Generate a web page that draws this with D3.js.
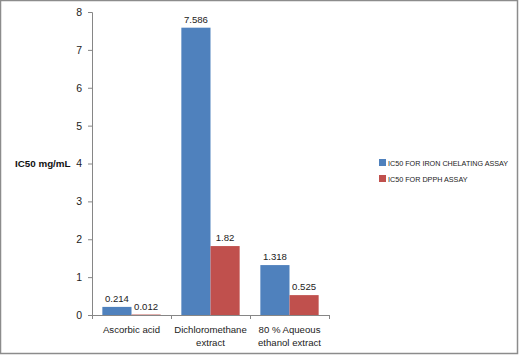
<!DOCTYPE html>
<html><head><meta charset="utf-8">
<script src="https://cdn.jsdelivr.net/npm/d3@7"></script>
<style>body{margin:0;background:#fff}svg{display:block}text{font-family:"Liberation Sans",Arial,sans-serif}</style>
</head><body><svg id="c" width="521" height="355"></svg>
<script>
const categories = [["Ascorbic acid"], ["Dichloromethane", "extract"], ["80 % Aqueous", "ethanol extract"]];
const seriesNames = ["IC50 FOR IRON CHELATING ASSAY", "IC50 FOR DPPH ASSAY"];
const ironValues = [0.214, 7.586, 1.318];
const dpphValues = [0.012, 1.82, 0.525];
const valueLabels = [["0.214", "7.586", "1.318"], ["0.012", "1.82", "0.525"]];
const yTicks = [0, 1, 2, 3, 4, 5, 6, 7, 8];
const colors = ["#4F81BD", "#C0504D"];

(function () {
const svg = d3.select("#c");
svg.append("rect").attr("x", 0.5).attr("y", 0.5).attr("width", 517).attr("height", 353)
  .attr("fill", "#fff").attr("stroke", "#8c8c8c").attr("stroke-width", 1.5);

const pL = 92, pR = 329, pT = 12, pB = 315;
const y = d3.scaleLinear().domain([0, 8]).range([pB, pT]);
const x0 = d3.scaleBand().domain(d3.range(categories.length)).range([pL, pR]).paddingInner(0).paddingOuter(0);
const x1 = d3.scaleBand().domain([0, 1]).range([0, x0.bandwidth()]).paddingOuter(0.355).paddingInner(0);

const ya = svg.append("g").attr("transform", `translate(${pL},0)`)
  .call(d3.axisLeft(y).tickValues(yTicks).tickSize(4).tickPadding(6).tickFormat(d3.format("d")));
ya.select(".domain").attr("stroke", "#868686");
ya.selectAll(".tick line").attr("stroke", "#868686");
ya.selectAll(".tick text").attr("font-size", 10.5).attr("fill", "#222").attr("font-family", '"Liberation Sans",Arial,sans-serif');

const xa = svg.append("g");
xa.append("line").attr("x1", pL).attr("x2", pR).attr("y1", pB + 0.5).attr("y2", pB + 0.5).attr("stroke", "#868686");
const bounds = d3.range(categories.length + 1).map(i => i < categories.length ? x0(i) : x0(i - 1) + x0.bandwidth());
xa.selectAll("line.t").data(bounds).enter().append("line").attr("class", "t")
  .attr("x1", d => d + 0.5).attr("x2", d => d + 0.5).attr("y1", pB).attr("y2", pB + 4).attr("stroke", "#868686");

categories.forEach((lines, i) => {
  const cx = x0(i) + x0.bandwidth() / 2;
  const t = svg.append("text").attr("text-anchor", "middle").attr("font-size", 9.6).attr("fill", "#222")
    .attr("x", cx).attr("y", 333);
  lines.forEach((l, j) => t.append("tspan").attr("x", cx).attr("dy", j ? 13 : 0).text(l));
});

const series = [ironValues, dpphValues];
series.forEach((vals, s) => {
  svg.selectAll(null).data(vals).enter().append("rect")
    .attr("x", (d, i) => x0(i) + x1(s)).attr("width", x1.bandwidth())
    .attr("y", d => y(d)).attr("height", d => pB - y(d)).attr("fill", colors[s]);
  svg.selectAll(null).data(vals).enter().append("text")
    .attr("text-anchor", "middle").attr("font-size", 9.6).attr("fill", "#222")
    .attr("x", (d, i) => x0(i) + x1(s) + x1.bandwidth() / 2)
    .attr("y", d => y(d) - 5).text((d, i) => valueLabels[s][i]);
});

svg.append("text").attr("x", 15).attr("y", 167).attr("font-size", 9.8).attr("font-weight", "bold")
  .attr("fill", "#111").text("IC50 mg/mL");

seriesNames.forEach((n, i) => {
  const g = svg.append("g").attr("transform", `translate(379,${159 + i * 16})`);
  g.append("rect").attr("width", 7).attr("height", 7).attr("fill", colors[i]);
  const t = g.append("text").attr("x", 9).attr("y", 7).attr("font-size", 8).attr("fill", "#222").text(n);
  const w = t.node().getComputedTextLength();
  t.attr("textLength", w * 0.9).attr("lengthAdjust", "spacingAndGlyphs");
});
})();
</script></body></html>
